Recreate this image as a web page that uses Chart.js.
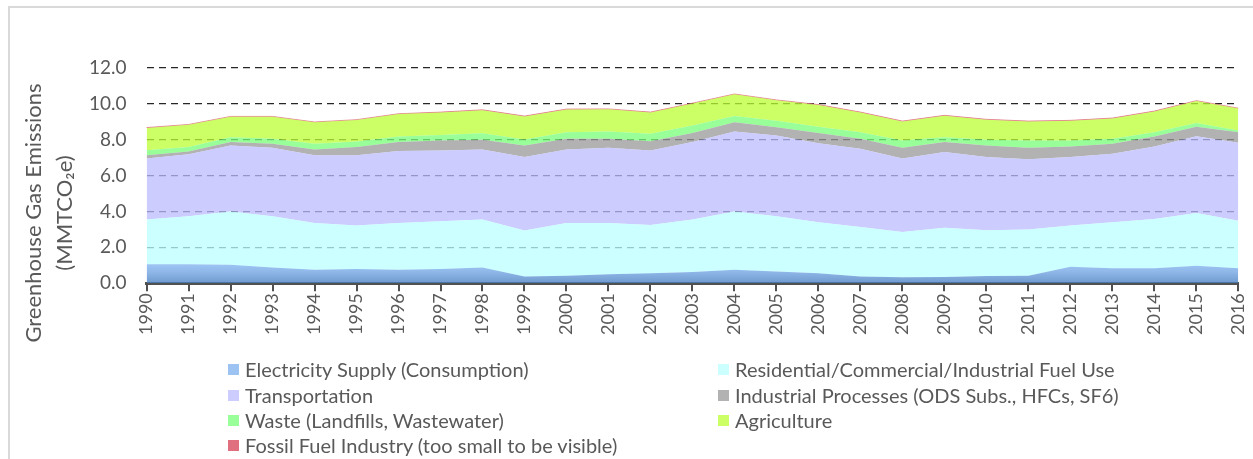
<!DOCTYPE html>
<html>
<head>
<meta charset="utf-8">
<script src="https://cdn.jsdelivr.net/npm/chart.js@4/dist/chart.umd.min.js"></script>
<style>
  html, body { margin: 0; padding: 0; background: #fff; }
  #wrap { position: relative; width: 1253px; height: 459px; overflow: hidden; }
  #frame { position: absolute; left: 8px; top: 6px; width: 1400px; height: 600px; border-left: 2px solid #d9d9d9; border-top: 2px solid #d9d9d9; }
  canvas { position: absolute; left: 0; top: 0; }
  .lg { position: absolute; font-family: Lato, sans-serif; font-size: 20px; color: #595959; white-space: nowrap; line-height: 22px; }
  .lg i { position: absolute; width: 11px; height: 11px; left: -17px; top: 6px; }
</style>
</head>
<body>
<div id="wrap">
  <div id="frame"></div>
  <canvas id="c" width="1262" height="459"></canvas>
  <div id="legend"></div>
</div>
<script>
const years = ['1990','1991','1992','1993','1994','1995','1996','1997','1998','1999','2000','2001','2002','2003','2004','2005','2006','2007','2008','2009','2010','2011','2012','2013','2014','2015','2016'];
const electricity = [1.06,1.06,1.03,0.88,0.75,0.79,0.75,0.79,0.88,0.38,0.42,0.50,0.55,0.62,0.75,0.66,0.55,0.38,0.33,0.35,0.40,0.42,0.92,0.83,0.83,0.97,0.83];
const residential = [2.49,2.67,2.97,2.85,2.61,2.43,2.61,2.66,2.67,2.56,2.94,2.86,2.70,2.93,3.25,3.07,2.85,2.76,2.52,2.74,2.56,2.58,2.30,2.57,2.75,2.94,2.66];
const transportation = [3.40,3.46,3.68,3.82,3.77,3.91,4.01,3.95,3.90,4.10,4.10,4.19,4.15,4.32,4.46,4.51,4.41,4.36,4.10,4.22,4.08,3.91,3.82,3.82,4.05,4.29,4.34];
const industrial = [0.18,0.16,0.19,0.23,0.32,0.46,0.50,0.56,0.55,0.64,0.59,0.50,0.52,0.51,0.51,0.45,0.57,0.55,0.60,0.56,0.64,0.64,0.59,0.56,0.55,0.53,0.59];
const waste = [0.28,0.24,0.27,0.27,0.33,0.31,0.31,0.31,0.36,0.33,0.37,0.41,0.41,0.41,0.35,0.37,0.35,0.37,0.41,0.27,0.32,0.41,0.33,0.27,0.24,0.20,0.09];
const agriculture = [1.25,1.24,1.14,1.23,1.19,1.20,1.25,1.25,1.29,1.29,1.27,1.24,1.19,1.23,1.21,1.14,1.21,1.10,1.06,1.20,1.12,1.06,1.10,1.14,1.16,1.23,1.23];
const fossil = [0.02,0.02,0.02,0.02,0.02,0.02,0.02,0.02,0.02,0.02,0.02,0.02,0.02,0.02,0.02,0.02,0.02,0.02,0.02,0.02,0.02,0.02,0.02,0.02,0.02,0.02,0.02];
const yTicks = [0,2,4,6,8,10,12];
const seriesLabels = ['Electricity Supply (Consumption)','Residential/Commercial/Industrial Fuel Use','Transportation','Industrial Processes (ODS Subs., HFCs, SF6)','Waste (Landfills, Wastewater)','Agriculture','Fossil Fuel Industry (too small to be visible)'];
const legendColors = ['#9dc3f2','#ccffff','#ccccff','#b2b2b2','#99ff99','#ccff66','#e06f7f'];
const fillColors = [null,'rgba(187,255,255,0.75)','rgba(187,187,255,0.75)','rgba(152,152,152,0.75)','rgba(119,255,119,0.75)','rgba(187,255,51,0.75)','rgba(224,111,127,0.8)'];
const values = [electricity,residential,transportation,industrial,waste,agriculture,fossil];

function elecFill(ctx) {
  const chart = ctx.chart;
  const ca = chart.chartArea;
  if (!ca) return 'rgba(124,175,238,0.75)';
  const y = chart.scales.y;
  const g = chart.ctx.createLinearGradient(0, y.getPixelForValue(1.1), 0, y.getPixelForValue(0));
  g.addColorStop(0, 'rgba(130,182,242,0.78)');
  g.addColorStop(0.45, 'rgba(110,162,225,0.78)');
  g.addColorStop(1, 'rgba(70,125,190,0.78)');
  return g;
}

const datasets = values.map((v, i) => ({
  label: seriesLabels[i],
  data: v,
  backgroundColor: i === 0 ? elecFill : fillColors[i],
  borderColor: i === 6 ? 'rgba(224,111,127,0.7)' : 'rgba(0,0,0,0)',
  borderWidth: i === 6 ? 1 : 0,
  fill: i === 0 ? 'origin' : '-1',
  pointRadius: 0,
  tension: 0
}));

const yTitlePlugin = {
  id: 'yTitle',
  afterDraw(chart) {
    const c = chart.ctx;
    c.save();
    c.fillStyle = '#595959';
    c.font = '22px Lato';
    c.textAlign = 'center';
    c.textBaseline = 'middle';
    c.translate(34, 213);
    c.rotate(-Math.PI / 2);
    c.fillText('Greenhouse Gas Emissions', 0, 0);
    c.fillText('(MMTCO\u2082e)', 0, 31);
    c.restore();
  }
};

new Chart(document.getElementById('c'), {
  type: 'line',
  data: { labels: years, datasets },
  options: {
    responsive: false,
    animation: false,
    layout: { padding: { top: 68, right: 5, bottom: 122, left: 69 } },
    plugins: { legend: { display: false }, tooltip: { enabled: false } },
    scales: {
      x: {
        offset: false,
        grid: { drawOnChartArea: false, drawTicks: true, tickLength: 8, color: '#505050', lineWidth: 2 },
        border: { display: true, color: '#505050', width: 3 },
        ticks: { color: '#595959', font: { family: 'Lato', size: 18 }, minRotation: 90, maxRotation: 90, padding: 2, autoSkip: false }
      },
      y: {
        stacked: true,
        min: 0, max: 12,
        afterBuildTicks(scale) { scale.ticks = yTicks.map(v => ({ value: v })); },
        grid: { color: 'rgba(0,0,0,0.85)', lineWidth: 1.3, drawTicks: false },
        border: { display: false, dash: [7, 5] },
        ticks: { color: '#595959', font: { family: 'Lato', size: 19 }, padding: 20, callback: v => v.toFixed(1) }
      }
    }
  },
  plugins: [yTitlePlugin]
});

const lg = document.getElementById('legend');
const colX = [245, 735];
const rowY = [358, 384, 409, 434];
seriesLabels.forEach((name, i) => {
  const d = document.createElement('div');
  d.className = 'lg';
  d.style.left = colX[i % 2] + 'px';
  d.style.top = rowY[Math.floor(i / 2)] + 'px';
  d.innerHTML = '<i style="background:' + legendColors[i] + '"></i>' + name;
  lg.appendChild(d);
});
</script>
</body>
</html>
